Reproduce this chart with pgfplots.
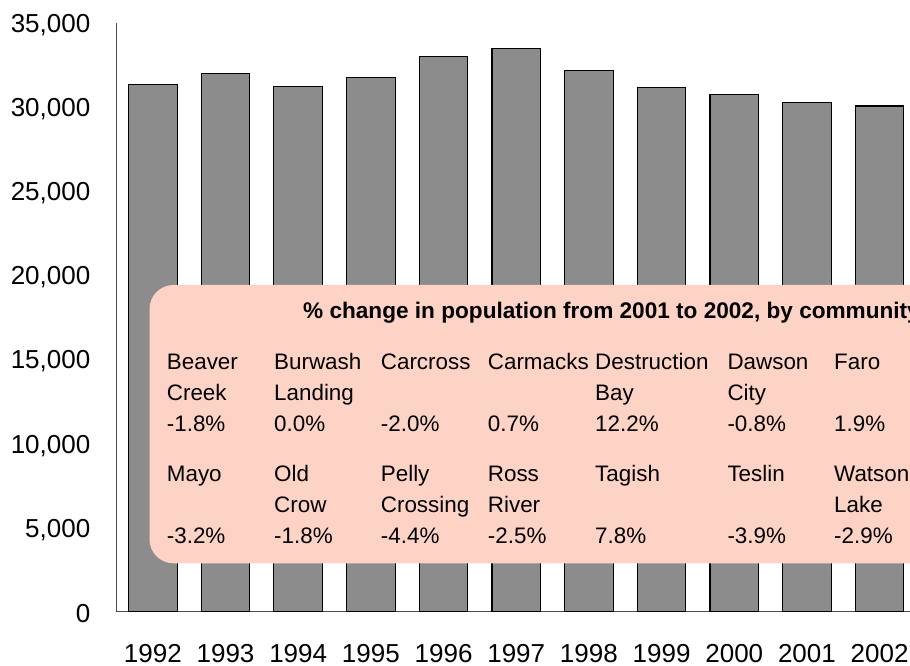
\documentclass[border=0pt]{standalone}
\usepackage{fontspec}
\setmainfont{Liberation Sans}
\usepackage{pgfplots}
\pgfplotsset{compat=1.18}
\definecolor{barfill}{RGB}{140,140,140}
\definecolor{boxfill}{RGB}{253,211,198}
\newcommand\cell[3]{\node[anchor=base west, inner sep=0pt, font=\fontsize{22.4}{27}\selectfont] at (#1pt,#2pt) {#3};}
\begin{document}
\begin{tikzpicture}
\path[use as bounding box] (0pt,0pt) rectangle (910pt,666pt);
\clip (0pt,0pt) rectangle (910pt,666pt);
\begin{axis}[
  at={(116.5pt,54pt)}, anchor=south west,
  scale only axis, width=793.5pt, height=589pt,
  xmin=-0.5, xmax=10.418, ymin=0, ymax=35000,
  axis x line*=bottom, axis y line*=left,
  axis line style={line width=1pt, draw=black!70},
  ytick={0,5000,...,35000}, scaled y ticks=false,
  /pgf/number format/1000 sep={,},
  /pgf/number format/assume math mode=true,
  xtick={0,...,10},
  xticklabels={1992,1993,1994,1995,1996,1997,1998,1999,2000,2001,2002},
  major tick length=0pt,
  tick label style={font=\fontsize{26}{31}\selectfont, inner sep=0pt},
  yticklabel style={xshift=-26pt, yshift=-2pt},
  xticklabel style={yshift=-32pt},
]
\addplot[ybar, bar width=48.5pt, fill=barfill, draw=black, line width=1.1pt] coordinates {
(0,31350) (1,32010) (2,31210) (3,31770) (4,32990) (5,33470)
(6,32160) (7,31150) (8,30740) (9,30260) (10,30070)};
\end{axis}
\fill[boxfill, rounded corners=24pt] (149.5pt,102.7pt) rectangle (1000pt,381pt);
\node[anchor=base west, inner sep=0pt, font=\fontsize{22.6}{27}\selectfont\bfseries] at (303pt,347pt) {\% change in population from 2001 to 2002, by community};
% group 1
\cell{166.7}{296}{Beaver}\cell{166.7}{265}{Creek}\cell{166.7}{234}{-1.8\%}
\cell{274}{296}{Burwash}\cell{274}{265}{Landing}\cell{274}{234}{0.0\%}
\cell{380.7}{296}{Carcross}\cell{380.7}{234}{-2.0\%}
\cell{487.7}{296}{Carmacks}\cell{487.7}{234}{0.7\%}
\cell{595}{296}{Destruction}\cell{595}{265}{Bay}\cell{595}{234}{12.2\%}
\cell{727.3}{296}{Dawson}\cell{727.3}{265}{City}\cell{727.3}{234}{-0.8\%}
\cell{834}{296}{Faro}\cell{834}{234}{1.9\%}
% group 2
\cell{166.7}{184}{Mayo}\cell{166.7}{122}{-3.2\%}
\cell{274}{184}{Old}\cell{274}{153}{Crow}\cell{274}{122}{-1.8\%}
\cell{380.7}{184}{Pelly}\cell{380.7}{153}{Crossing}\cell{380.7}{122}{-4.4\%}
\cell{487.7}{184}{Ross}\cell{487.7}{153}{River}\cell{487.7}{122}{-2.5\%}
\cell{595}{184}{Tagish}\cell{595}{122}{7.8\%}
\cell{727.3}{184}{Teslin}\cell{727.3}{122}{-3.9\%}
\cell{834}{184}{Watson}\cell{834}{153}{Lake}\cell{834}{122}{-2.9\%}
\end{tikzpicture}
\end{document}
